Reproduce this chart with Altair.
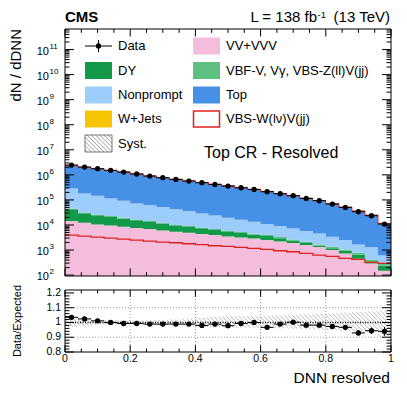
import altair as alt
import numpy as np
import pandas as pd

# ---------------- data ----------------
bin_lo = [0.00, 0.04, 0.08, 0.12, 0.16, 0.20, 0.24, 0.28, 0.32, 0.36, 0.40, 0.44, 0.48,
          0.52, 0.56, 0.60, 0.64, 0.68, 0.72, 0.76, 0.80, 0.84, 0.88, 0.92, 0.96]
bin_hi = [0.04, 0.08, 0.12, 0.16, 0.20, 0.24, 0.28, 0.32, 0.36, 0.40, 0.44, 0.48, 0.52,
          0.56, 0.60, 0.64, 0.68, 0.72, 0.76, 0.80, 0.84, 0.88, 0.92, 0.96, 1.00]

processes = ["VV+VVV", "DY", "VBF-V, Vγ, VBS-Z(ll)V(jj)", "Nonprompt", "Top", "W+Jets"]
proc_colors = ["#F5BDDC", "#12994A", "#5EC080", "#9DCDFB", "#4690E6", "#F6C400"]

vv_vvv = [14300, 12300, 10500, 9600, 8500, 7500, 6860, 6070, 5370, 4900, 4330, 3950, 3500,
          3190, 2910, 2500, 2210, 1890, 1580, 1310, 995, 720, 450, 290, 150]
dy = [27900, 16900, 13800, 11300, 9350, 7860, 6300, 5250, 3740, 3420, 3030, 2350, 1720,
      1590, 1180, 1100, 770, 490, 330, 180, 195, 210, 220, 70, 90]
vbf = [3670, 2540, 2110, 1820, 1550, 1340, 1140, 980, 800, 720, 640, 560, 480,
       430, 380, 350, 310, 270, 230, 190, 160, 130, 110, 60, 40]
nonprompt = [242000, 150000, 121000, 92300, 73300, 55900, 48000, 39500, 33300, 26900, 21000,
             17200, 13700, 11000, 9030, 6950, 5750, 4640, 3560, 2930, 2040, 1440, 900, 880, 320]
top = [2090000, 1820000, 1590000, 1390000, 1210000, 1020000, 843000, 725000, 622000, 535000,
       466000, 396000, 345000, 292000, 249000, 208000, 170000, 140000, 111000, 89700, 66700,
       49300, 34600, 23500, 11000]
wjets = [2400, 2000, 1700, 1500, 1300, 1100, 900, 780, 670, 570, 490, 420, 360,
         300, 260, 220, 180, 150, 120, 95, 70, 52, 36, 25, 12]
signal = [3950, 3610, 3290, 3000, 2740, 2500, 2280, 2080, 1950, 1780, 1630, 1480, 1390,
          1270, 1160, 1060, 936, 854, 733, 629, 556, 463, 420, 320, 295]
data = [2.46e6, 2.05e6, 1.76e6, 1.51e6, 1.29e6, 1.08e6, 8.96e5, 7.69e5, 6.59e5, 5.65e5,
        4.85e5, 4.16e5, 3.57e5, 3.06e5, 2.63e5, 2.12e5, 1.77e5, 1.47e5, 1.15e5, 9.27e4,
        6.83e4, 5.02e4, 3.37e4, 2.34e4, 1.09e4]
ratio = [1.035, 1.024, 1.011, 1.000, 0.993, 0.993, 0.989, 0.989, 0.989, 0.989, 0.980, 0.989,
         0.978, 0.993, 1.000, 0.967, 0.989, 1.002, 0.982, 0.982, 0.973, 0.967, 0.929, 0.944, 0.940]
ratio_err = [0.004, 0.004, 0.004, 0.004, 0.004, 0.004, 0.005, 0.005, 0.005, 0.005, 0.005, 0.006,
             0.006, 0.006, 0.007, 0.007, 0.008, 0.008, 0.009, 0.010, 0.012, 0.014, 0.018, 0.022, 0.030]
syst_up = [0.030, 0.022, 0.018, 0.015, 0.015, 0.015, 0.016, 0.018, 0.020, 0.025, 0.032, 0.038,
           0.042, 0.044, 0.045, 0.046, 0.048, 0.050, 0.055, 0.058, 0.062, 0.066, 0.070, 0.075, 0.080]
syst_dn = [0.030, 0.022, 0.018, 0.015, 0.015, 0.015, 0.016, 0.018, 0.020, 0.022, 0.028, 0.032,
           0.035, 0.036, 0.037, 0.038, 0.040, 0.042, 0.046, 0.050, 0.054, 0.058, 0.062, 0.066, 0.100]

x_tick_labels = ["0", "0.2", "0.4", "0.6", "0.8", "1"]
ratio_tick_labels = ["0.8", "0.9", "1", "1.1", "1.2"]

# ---------------- layout ----------------
W, H = 326, 323
MAIN_H = 247
R_TOP, R_BOT = 261, 323
FONT = "Liberation Sans"
RED = "#E0201B"

xsc = alt.Scale(domain=[0, 1], range=[0, W], nice=False, zero=False)
ysm = alt.Scale(type="log", domain=[92, 6.6e11], range=[MAIN_H, 0], nice=False, clamp=True)
ysr = alt.Scale(domain=[0.8, 1.22], range=[R_BOT, R_TOP], nice=False, zero=False, clamp=True)


def XQ(f):
    return alt.X(f, type="quantitative", scale=xsc, axis=None)


def YM(f):
    return alt.Y(f, type="quantitative", scale=ysm, axis=None, stack=None)


def YR(f):
    return alt.Y(f, type="quantitative", scale=ysr, axis=None, stack=None)


def PX(f):
    return alt.X(f, type="quantitative", scale=None, axis=None)


def PY(f):
    return alt.Y(f, type="quantitative", scale=None, axis=None)


one = pd.DataFrame({"a": [0]})
layers = []

# ---------------- stacked histograms ----------------
yields = np.array([vv_vvv, dy, vbf, nonprompt, top, wjets], dtype=float)
edges_x = bin_lo + [bin_hi[-1]]
rows = []
base = np.zeros(len(bin_lo))
for name, vals in zip(processes, yields):
    upper = base + vals
    lower = np.where(base > 0, base, 1.0)
    for i in range(len(edges_x)):
        j = min(i, len(bin_lo) - 1)
        rows.append({"proc": name, "x": edges_x[i], "y0": lower[j], "y1": upper[j]})
    base = upper
stack_df = pd.DataFrame(rows)
total = base

layers.append(
    alt.Chart(stack_df).mark_area(interpolate="step-after", opacity=1).encode(
        x=XQ("x"), y=YM("y1"), y2="y0",
        color=alt.Color("proc:N", scale=alt.Scale(domain=processes, range=proc_colors), legend=None),
    )
)

# total outline (stack top)
tot_df = pd.DataFrame({"x": edges_x, "y": list(total) + [total[-1]]})
layers.append(alt.Chart(tot_df).mark_line(interpolate="step-after", color=RED, strokeWidth=1).encode(
    x=XQ("x"), y=YM("y")))

# signal line
sig_df = pd.DataFrame({"x": edges_x, "y": signal + [signal[-1]]})
layers.append(alt.Chart(sig_df).mark_line(interpolate="step-after", color=RED, strokeWidth=1.3).encode(
    x=XQ("x"), y=YM("y")))

# data points
centers = [(a + b) / 2 for a, b in zip(bin_lo, bin_hi)]
data_df = pd.DataFrame({"xc": centers, "lo": bin_lo, "hi": bin_hi, "y": data,
                        "r": ratio, "re_lo": [r - e for r, e in zip(ratio, ratio_err)],
                        "re_hi": [r + e for r, e in zip(ratio, ratio_err)]})
layers.append(alt.Chart(data_df).mark_rule(color="black", strokeWidth=1).encode(
    x=XQ("lo"), x2="hi", y=YM("y")))
layers.append(alt.Chart(data_df).mark_circle(color="black", size=28, opacity=1).encode(
    x=XQ("xc"), y=YM("y")))

# ---------------- ratio panel ----------------
# syst hatch
k = W / ((R_BOT - R_TOP) / 0.42)
dc = k * 4.2 / W
hrows = []
for lo, hi, u, d in zip(bin_lo, bin_hi, syst_up, syst_dn):
    y0, y1 = 1 - d, 1 + u
    cmin, cmax = y0 + k * lo, y1 + k * hi
    for m in range(int(np.ceil(cmin / dc)), int(np.floor(cmax / dc)) + 1):
        c = m * dc
        xa = max(lo, (c - y1) / k)
        xb = min(hi, (c - y0) / k)
        if xb > xa:
            hrows.append({"xa": xa, "xb": xb, "ya": c - k * xa, "yb": c - k * xb})
hatch_df = pd.DataFrame(hrows)
layers.append(alt.Chart(hatch_df).mark_rule(color="#9A9A9A", strokeWidth=0.7).encode(
    x=XQ("xa"), x2="xb", y=YR("ya"), y2="yb"))

# grid
vgrid = pd.DataFrame({"v": [0.2, 0.4, 0.6, 0.8]})
layers.append(alt.Chart(vgrid).mark_rule(color="#999999", strokeDash=[1, 2], strokeWidth=1).encode(
    x=XQ("v"), y=alt.value(R_TOP), y2=alt.value(R_BOT)))
hgrid = pd.DataFrame({"v": [0.9, 1.1]})
layers.append(alt.Chart(hgrid).mark_rule(color="#999999", strokeDash=[1, 2], strokeWidth=1).encode(
    y=YR("v"), x=alt.value(0), x2=alt.value(W)))
one_df = pd.DataFrame({"v": [1.0]})
layers.append(alt.Chart(one_df).mark_rule(color="black", strokeDash=[1, 1.5], strokeWidth=1.3).encode(
    y=YR("v"), x=alt.value(0), x2=alt.value(W)))

# ratio points
layers.append(alt.Chart(data_df).mark_rule(color="black", strokeWidth=1).encode(
    x=XQ("lo"), x2="hi", y=YR("r")))
layers.append(alt.Chart(data_df).mark_rule(color="black", strokeWidth=1).encode(
    x=XQ("xc"), y=YR("re_lo"), y2="re_hi"))
layers.append(alt.Chart(data_df).mark_circle(color="black", size=28, opacity=1).encode(
    x=XQ("xc"), y=YR("r")))

# ---------------- frames ----------------
frames = pd.DataFrame({"x0": [0, 0], "x1": [W, W], "y0": [0, R_TOP], "y1": [MAIN_H, R_BOT]})
layers.append(alt.Chart(frames).mark_rect(filled=False, stroke="black", strokeWidth=1).encode(
    x=PX("x0"), x2="x1", y=PY("y0"), y2="y1"))

# ---------------- ticks ----------------
maj_y = [10.0 ** n for n in range(2, 12)]
min_y = [kk * 10.0 ** n for n in range(1, 12) for kk in range(2, 10) if 92 < kk * 10.0 ** n < 6.6e11]
ym_ticks = pd.DataFrame({"v": maj_y + min_y, "len": [9] * len(maj_y) + [4.5] * len(min_y)})
ym_ticks["rlen"] = W - ym_ticks["len"]
layers.append(alt.Chart(ym_ticks).mark_rule(color="black", strokeWidth=1).encode(
    y=YM("v"), x=PX("len"), x2=alt.value(0)))
layers.append(alt.Chart(ym_ticks).mark_rule(color="black", strokeWidth=1).encode(
    y=YM("v"), x=PX("rlen"), x2=alt.value(W)))

xmaj = [0.0, 0.2, 0.4, 0.6, 0.8, 1.0]
xmin = [0.05, 0.1, 0.15, 0.25, 0.3, 0.35, 0.45, 0.5, 0.55, 0.65, 0.7, 0.75, 0.85, 0.9, 0.95]
xt = pd.DataFrame({"v": xmaj + xmin, "len": [7.5] * len(xmaj) + [3.8] * len(xmin)})
xt["mb"] = MAIN_H - xt["len"]
xt["mt"] = xt["len"]
xt["rb"] = R_BOT - xt["len"] * 0.9
xt["rt"] = R_TOP + xt["len"] * 0.9
for yy, f in [(MAIN_H, "mb"), (0, "mt"), (R_BOT, "rb"), (R_TOP, "rt")]:
    layers.append(alt.Chart(xt).mark_rule(color="black", strokeWidth=1).encode(
        x=XQ("v"), y=PY(f), y2=alt.value(yy)))

rmaj = [0.8, 0.9, 1.0, 1.1, 1.2]
rmin = [0.82, 0.84, 0.86, 0.88, 0.92, 0.94, 0.96, 0.98, 1.02, 1.04, 1.06, 1.08, 1.12, 1.14, 1.16, 1.18]
rt = pd.DataFrame({"v": rmaj + rmin, "len": [9] * len(rmaj) + [4.5] * len(rmin)})
rt["rlen"] = W - rt["len"]
layers.append(alt.Chart(rt).mark_rule(color="black", strokeWidth=1).encode(
    y=YR("v"), x=PX("len"), x2=alt.value(0)))
layers.append(alt.Chart(rt).mark_rule(color="black", strokeWidth=1).encode(
    y=YR("v"), x=PX("rlen"), x2=alt.value(W)))

# ---------------- tick labels ----------------
ylab = pd.DataFrame({"v": maj_y, "base": ["10"] * len(maj_y), "exp": [str(n) for n in range(2, 12)]})
layers.append(alt.Chart(ylab).mark_text(font=FONT, fontSize=11, align="right", baseline="alphabetic", dy=5).encode(
    y=YM("v"), x=alt.value(-16), text="base:N"))
layers.append(alt.Chart(ylab).mark_text(font=FONT, fontSize=8, align="left", baseline="alphabetic", dy=-1).encode(
    y=YM("v"), x=alt.value(-15.5), text="exp:N"))

rlab = pd.DataFrame({"v": rmaj, "t": ratio_tick_labels})
layers.append(alt.Chart(rlab).mark_text(font=FONT, fontSize=10.5, align="right", baseline="middle").encode(
    y=YR("v"), x=alt.value(-4), text="t:N"))

xlab = pd.DataFrame({"v": xmaj, "t": x_tick_labels})
layers.append(alt.Chart(xlab).mark_text(font=FONT, fontSize=10.5, align="center", baseline="alphabetic").encode(
    x=XQ("v"), y=alt.value(333), text="t:N"))

# ---------------- texts ----------------
def text_layer(txt, x, y, size, align="left", baseline="alphabetic", weight="normal", angle=0):
    return alt.Chart(one).mark_text(text=txt, font=FONT, fontSize=size, align=align, baseline=baseline,
                                    fontWeight=weight, angle=angle, color="black").encode(
        x=alt.value(x), y=alt.value(y))

layers.append(text_layer("CMS", 0, -7, 15, weight="bold"))
layers.append(text_layer(" (13 TeV)", 325, -7, 15, align="right"))
layers.append(text_layer("-1", 261, -11.5, 9.5, align="right"))
layers.append(text_layer("L = 138 fb", 252, -7, 15, align="right"))
layers.append(text_layer("dN / dDNN", -44, 0, 15, align="right", angle=270))
layers.append(text_layer("Data/Expected", -44, 292, 11, align="center", angle=270))
layers.append(text_layer("DNN resolved", 325, 353.5, 15.5, align="right"))
layers.append(text_layer("Top CR - Resolved", 139, 129, 16))

# ---------------- legend ----------------
row_y = [17, 41.5, 66, 90, 114.5]
col_box = [20, 128]
BW, BH = 27, 17
box_items = [
    (0, 1, "DY", proc_colors[1]),
    (0, 2, "Nonprompt", proc_colors[3]),
    (0, 3, "W+Jets", proc_colors[5]),
    (1, 0, "VV+VVV", proc_colors[0]),
    (1, 1, "VBF-V, Vγ, VBS-Z(ll)V(jj)", proc_colors[2]),
    (1, 2, "Top", proc_colors[4]),
]
leg = pd.DataFrame({
    "x0": [col_box[c] for c, r, t, col in box_items],
    "y0": [row_y[r] - BH / 2 for c, r, t, col in box_items],
    "col": [col for c, r, t, col in box_items],
})
leg["x1"] = leg["x0"] + BW
leg["y1"] = leg["y0"] + BH
layers.append(alt.Chart(leg).mark_rect().encode(
    x=PX("x0"), x2="x1", y=PY("y0"), y2="y1", color=alt.Color("col:N", scale=None)))

# signal box
sigbox = pd.DataFrame({"x0": [col_box[1] + 0.5], "y0": [row_y[3] - BH / 2 + 0.5]})
sigbox["x1"] = sigbox["x0"] + BW - 1
sigbox["y1"] = sigbox["y0"] + BH - 1
layers.append(alt.Chart(sigbox).mark_rect(fill="white", stroke=RED, strokeWidth=1.5).encode(
    x=PX("x0"), x2="x1", y=PY("y0"), y2="y1"))

# syst box (hatched)
sx0, sx1 = col_box[0], col_box[0] + BW
sy0, sy1 = row_y[4] - BH / 2, row_y[4] + BH / 2
lrows = []
sp = 4.2
cmin, cmax = sy0 - sx1, sy1 - sx0
for m in range(int(np.ceil(cmin / sp)), int(np.floor(cmax / sp)) + 1):
    c = m * sp
    xa = max(sx0, sy0 - c)
    xb = min(sx1, sy1 - c)
    if xb > xa:
        lrows.append({"xa": xa, "xb": xb, "ya": xa + c, "yb": xb + c})
lh = pd.DataFrame(lrows)
layers.append(alt.Chart(lh).mark_rule(color="#888888", strokeWidth=0.8).encode(
    x=PX("xa"), x2="xb", y=PY("ya"), y2="yb"))
sb = pd.DataFrame({"x0": [sx0], "x1": [sx1], "y0": [sy0], "y1": [sy1]})
layers.append(alt.Chart(sb).mark_rect(filled=False, stroke="#555555", strokeWidth=0.8).encode(
    x=PX("x0"), x2="x1", y=PY("y0"), y2="y1"))

# data legend symbol
dsym = pd.DataFrame({"x0": [col_box[0]], "x1": [col_box[0] + BW], "xc": [col_box[0] + BW / 2],
                     "y": [row_y[0]], "ya": [row_y[0] - 6], "yb": [row_y[0] + 6]})
layers.append(alt.Chart(dsym).mark_rule(color="black", strokeWidth=1).encode(
    x=PX("x0"), x2="x1", y=PY("y")))
layers.append(alt.Chart(dsym).mark_rule(color="black", strokeWidth=1).encode(
    x=PX("xc"), y=PY("ya"), y2="yb"))
layers.append(alt.Chart(dsym).mark_circle(color="black", size=28, opacity=1).encode(
    x=PX("xc"), y=PY("y")))

# legend texts
leg_text = [(0, 0, "Data"), (0, 1, "DY"), (0, 2, "Nonprompt"), (0, 3, "W+Jets"), (0, 4, "Syst."),
            (1, 0, "VV+VVV"), (1, 1, "VBF-V, Vγ, VBS-Z(ll)V(jj)"), (1, 2, "Top"), (1, 3, "VBS-W(lν)V(jj)")]
lt = pd.DataFrame({"x": [col_box[c] + BW + 6 for c, r, t in leg_text],
                   "y": [row_y[r] for c, r, t in leg_text],
                   "t": [t for c, r, t in leg_text]})
layers.append(alt.Chart(lt).mark_text(font=FONT, fontSize=13, align="left", baseline="middle", color="black").encode(
    x=PX("x"), y=PY("y"), text="t:N"))

chart = alt.layer(*layers).resolve_scale(x="independent", y="independent", color="independent").properties(
    width=W, height=H,
    padding={"left": 57, "top": 21, "right": 8, "bottom": 35},
    autosize=alt.AutoSizeParams(type="none"),
).configure_view(stroke=None)

chart.save("out.html", embed_options={"renderer": "svg", "actions": False})
